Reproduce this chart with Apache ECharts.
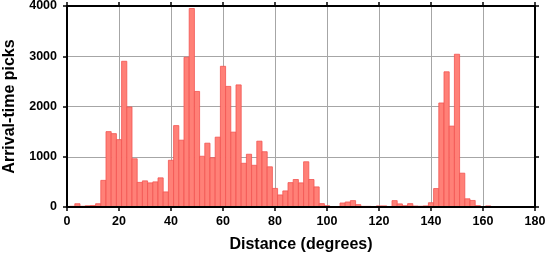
<!DOCTYPE html>
<html lang="en">

<head>
    <meta charset="UTF-8">
    <title>Arrival-time picks</title>
    <script src="https://cdn.jsdelivr.net/npm/echarts@6/dist/echarts.min.js"></script>
    <style>
        html, body { margin: 0; padding: 0; background: #fff; }
        #hist_show { width: 547px; height: 258px; }
    </style>
</head>

<body>
    <div id="hist_show"></div>

    <script>
        // bin centres (degrees), each bin is 2 degrees wide
        var binCenters = [0, 2, 4, 6, 8, 10, 12, 14, 16, 18, 20, 22, 24, 26, 28, 30, 32, 34, 36, 38,
            40, 42, 44, 46, 48, 50, 52, 54, 56, 58, 60, 62, 64, 66, 68, 70, 72, 74, 76, 78,
            80, 82, 84, 86, 88, 90, 92, 94, 96, 98, 100, 102, 104, 106, 108, 110, 112, 114, 116, 118,
            120, 122, 124, 126, 128, 130, 132, 134, 136, 138, 140, 142, 144, 146, 148, 150, 152, 154, 156, 158,
            160, 162, 164, 166, 168, 170, 172, 174, 176, 178, 180];
        // number of picks per bin
        var pickCounts = [10, 15, 65, 15, 25, 30, 65, 530, 1500, 1460, 1340, 2900, 1990, 960, 490, 520, 480, 500, 580, 300,
            930, 1620, 1330, 2980, 3950, 2300, 1010, 1270, 980, 1390, 2800, 2400, 1490, 2430, 870, 1050, 830, 1310, 1100, 800,
            370, 240, 320, 485, 547, 480, 900, 547, 400, 67, 27, 5, 7, 80, 100, 127, 47, 13, 13, 10,
            22, 22, 5, 127, 62, 27, 67, 20, 15, 22, 85, 367, 2070, 2690, 1610, 3040, 673, 163, 130, 27,
            7, 22, 8, 6, 8, 6, 8, 6, 5, 5, 3];
        var xTicks = [0, 180, 20];      // min, max, step
        var yTicks = [0, 4000, 1000];
        var binWidth = 2;

        var myChart = echarts.init(document.getElementById('hist_show'));

        var data = [];
        for (var i = 0; i < binCenters.length; i++) {
            data.push([binCenters[i], pickCounts[i]]);
        }

        function renderBar(params, api) {
            var c = api.value(0);
            var v = api.value(1);
            var p0 = api.coord([c - binWidth / 2, 0]);
            var p1 = api.coord([c + binWidth / 2, v]);
            var rect = echarts.graphic.clipRectByRect({
                x: p0[0],
                y: p1[1],
                width: p1[0] - p0[0],
                height: p0[1] - p1[1]
            }, {
                x: params.coordSys.x,
                y: params.coordSys.y,
                width: params.coordSys.width,
                height: params.coordSys.height
            });
            if (!rect) return;
            return {
                type: 'rect',
                shape: rect,
                style: { fill: '#ff8077', stroke: '#f25450', lineWidth: 0.8 }
            };
        }

        var font = 'Liberation Sans';
        var frameLine = { show: true, onZero: false, lineStyle: { color: '#000', width: 2 } };
        var frameTick = { show: true, inside: false, length: 4, lineStyle: { color: '#000', width: 1.5 } };
        var gridLine = { show: true, lineStyle: { color: '#a6a6a6', width: 1 } };

        var option = {
            animation: false,
            grid: { left: 67, right: 12, top: 6, bottom: 51, containLabel: false, outerBoundsMode: 'none' },
            xAxis: [{
                type: 'value',
                position: 'bottom',
                min: xTicks[0], max: xTicks[1], interval: xTicks[2],
                z: 5,
                axisLine: frameLine,
                axisTick: frameTick,
                splitLine: { show: false },
                axisLabel: { margin: 8, color: '#000', fontSize: 12.5, fontWeight: 'bold', fontFamily: font },
                name: 'Distance (degrees)',
                nameLocation: 'middle',
                nameGap: 30,
                nameTextStyle: { color: '#000', fontSize: 16, fontWeight: 'bold', fontFamily: font }
            }, {
                type: 'value',
                position: 'top',
                min: xTicks[0], max: xTicks[1], interval: xTicks[2],
                axisLine: frameLine,
                axisTick: frameTick,
                splitLine: gridLine,
                axisLabel: { show: false }
            }],
            yAxis: [{
                type: 'value',
                position: 'left',
                min: yTicks[0], max: yTicks[1], interval: yTicks[2],
                z: 5,
                axisLine: frameLine,
                axisTick: frameTick,
                splitLine: { show: false },
                axisLabel: {
                    margin: 10, color: '#000', fontSize: 12.5, fontWeight: 'bold', fontFamily: font,
                    formatter: function (val) { return String(val); }
                },
                name: 'Arrival-time picks',
                nameLocation: 'middle',
                nameRotate: 90,
                nameGap: 49,
                nameTextStyle: { color: '#000', fontSize: 16, fontWeight: 'bold', fontFamily: font }
            }, {
                type: 'value',
                position: 'right',
                min: yTicks[0], max: yTicks[1], interval: yTicks[2],
                axisLine: frameLine,
                axisTick: frameTick,
                splitLine: gridLine,
                axisLabel: { show: false }
            }],
            series: [{
                type: 'custom',
                xAxisIndex: 0,
                yAxisIndex: 0,
                renderItem: renderBar,
                encode: { x: 0, y: 1 },
                data: data
            }]
        };

        myChart.setOption(option);
    </script>
</body>

</html>
